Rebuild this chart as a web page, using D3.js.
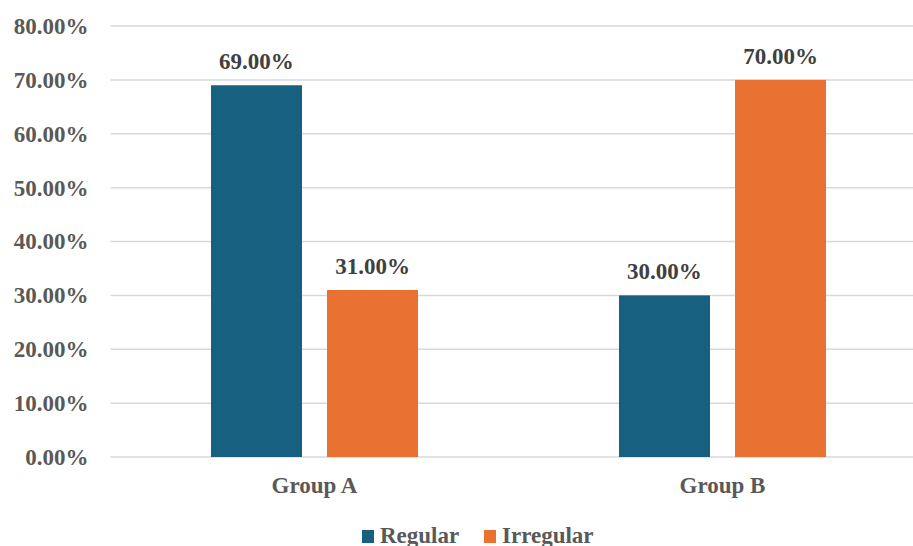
<!DOCTYPE html>
<html>
<head>
<meta charset="utf-8">
<script src="https://cdn.jsdelivr.net/npm/d3@7"></script>
<style>
  body { margin: 0; background: #fff; }
  svg { display: block; }
</style>
</head>
<body>
<svg id="chart" width="913" height="546"></svg>
<script>
const groups = ["Group A", "Group B"];
const seriesNames = ["Regular", "Irregular"];
const regular = [0.69, 0.30];
const irregular = [0.31, 0.70];
const yTicks = [0, 0.1, 0.2, 0.3, 0.4, 0.5, 0.6, 0.7, 0.8];
const colors = ["#17607f", "#e97132"];

const FONT = "'Liberation Serif', 'Times New Roman', serif";

const svg = d3.select("#chart");
const width = 913, height = 546;
const PADDING = { top: 26, right: -13.5, bottom: 89, left: 110.5 };

const x = d3.scaleBand()
    .domain(groups)
    .range([PADDING.left, width - PADDING.right])
    .paddingInner(0).paddingOuter(0);

// inner scale: bar 91px, gap 25px inside a 408px group
const xs = d3.scaleBand()
    .domain(seriesNames)
    .range([0, x.bandwidth()])
    .paddingInner(0.2155).paddingOuter(0.866);

const y = d3.scaleLinear().domain([0, 0.8]).range([height - PADDING.bottom, PADDING.top]);

const fmt = d3.format(".2%");

function serif(sel, size, fill) {
    sel.style("font-family", FONT)
        .style("font-weight", "bold")
        .style("font-size", size + "px")
        .attr("fill", fill);
}

// gridlines
svg.append("g")
    .selectAll("line")
    .data(yTicks)
    .join("line")
    .attr("x1", PADDING.left)
    .attr("x2", width)
    .attr("y1", d => y(d))
    .attr("y2", d => y(d))
    .attr("stroke", "#d9d9d9")
    .attr("stroke-width", 1.5);

// y labels
const yaxis = d3.axisLeft(y).tickValues(yTicks).tickFormat(fmt).tickSize(0).tickPadding(22);
svg.append("g")
    .attr("transform", `translate(${PADDING.left},0)`)
    .call(yaxis)
    .call(g => g.select(".domain").remove())
    .call(g => g.selectAll("text").call(serif, 23, "#595959"));

const data = [];
groups.forEach((g, i) => {
    data.push({ group: g, series: "Regular", value: regular[i], color: colors[0] });
    data.push({ group: g, series: "Irregular", value: irregular[i], color: colors[1] });
});

svg.append("g")
    .selectAll("rect")
    .data(data)
    .join("rect")
    .attr("x", d => x(d.group) + xs(d.series))
    .attr("width", xs.bandwidth())
    .attr("y", d => y(d.value))
    .attr("height", d => y(0) - y(d.value))
    .attr("fill", d => d.color);

svg.append("g")
    .selectAll("text")
    .data(data)
    .join("text")
    .attr("x", d => x(d.group) + xs(d.series) + xs.bandwidth() / 2)
    .attr("y", d => y(d.value) - 16)
    .attr("text-anchor", "middle")
    .call(serif, 23, "#404040")
    .text(d => fmt(d.value));

// x labels
const xaxis = d3.axisBottom(x).tickSize(0).tickPadding(0);
svg.append("g")
    .attr("transform", `translate(0,${y(0)})`)
    .call(xaxis)
    .call(g => g.select(".domain").remove())
    .call(g => g.selectAll("text")
        .attr("dy", null)
        .attr("y", 36)
        .call(serif, 23, "#595959"));

// legend
const legendItems = [
    { name: seriesNames[0], color: colors[0], x: 362 },
    { name: seriesNames[1], color: colors[1], x: 484 }
];
const legend = svg.append("g");
legend.selectAll("rect")
    .data(legendItems)
    .join("rect")
    .attr("x", d => d.x)
    .attr("y", 530)
    .attr("width", 12)
    .attr("height", 13)
    .attr("fill", d => d.color);
legend.selectAll("text")
    .data(legendItems)
    .join("text")
    .attr("x", d => d.x + 18)
    .attr("y", 543)
    .call(serif, 23, "#595959")
    .text(d => d.name);
</script>
</body>
</html>
